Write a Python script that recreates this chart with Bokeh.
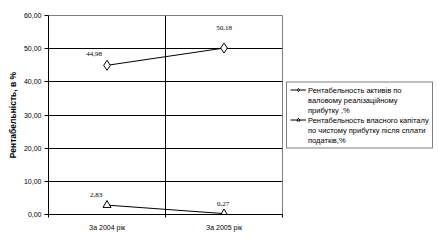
from bokeh.plotting import figure
from bokeh.models import (FixedTicker, Legend, LegendItem, ColumnDataSource, LabelSet)
from bokeh.embed import file_html
from bokeh.resources import INLINE

# ---- data ----
categories = ["За 2004 рік", "За 2005 рік"]
series1_lines = ["Рентабельность активів по", "валовому реалізаційному", "прибутку ,%"]
series1 = [44.98, 50.18]
series2_lines = ["Рентабельность власного капіталу", "по чистому прибутку після сплати", "податків,%"]
series2 = [2.83, 0.27]
y_ticks = [0, 10, 20, 30, 40, 50, 60]
y_tick_labels = ["0,00", "10,00", "20,00", "30,00", "40,00", "50,00", "60,00"]
y_title = "Рентабельність, в %"

FONT = "Liberation Sans"
FS = "7px"

xs = [i + 0.5 for i in range(len(categories))]

p = figure(frame_width=234, frame_height=199, output_backend="svg", toolbar_location=None,
           x_range=(0, len(categories)), y_range=(y_ticks[0], y_ticks[-1]),
           min_border_left=48, min_border_right=0, min_border_top=15,
           min_border_bottom=27)
p.background_fill_color = "white"
p.border_fill_color = "white"
p.outline_line_color = "#808080"
p.outline_line_width = 1

# y axis
p.yaxis.ticker = FixedTicker(ticks=y_ticks)
p.yaxis.major_label_overrides = {t: l for t, l in zip(y_ticks, y_tick_labels)}
p.yaxis.major_tick_in = 0
p.yaxis.major_tick_out = 4
p.yaxis.minor_tick_line_color = None
p.yaxis.axis_line_color = "black"
p.yaxis.major_tick_line_color = "black"
p.yaxis.major_label_text_font = FONT
p.yaxis.major_label_text_font_size = FS
p.yaxis.major_label_text_color = "black"
p.yaxis.major_label_standoff = 3
p.yaxis.axis_label = y_title
p.yaxis.axis_label_text_font = FONT
p.yaxis.axis_label_text_font_size = "8.5px"
p.yaxis.axis_label_text_font_style = "bold"
p.yaxis.axis_label_text_color = "black"
p.yaxis.axis_label_standoff = 3

# x axis: labels at category centres, ticks at boundaries
p.xaxis.ticker = FixedTicker(ticks=xs, minor_ticks=list(range(len(categories) + 1)))
p.xaxis.major_label_overrides = {x: c for x, c in zip(xs, categories)}
p.xaxis.major_tick_in = 0
p.xaxis.major_tick_out = 0
p.xaxis.minor_tick_in = 0
p.xaxis.minor_tick_out = 3
p.xaxis.minor_tick_line_color = "black"
p.xaxis.axis_line_color = "black"
p.xaxis.major_label_text_font = FONT
p.xaxis.major_label_text_font_size = FS
p.xaxis.major_label_text_color = "black"
p.xaxis.major_label_standoff = 6

p.ygrid.ticker = FixedTicker(ticks=y_ticks)
p.ygrid.grid_line_color = "black"
p.xgrid.ticker = FixedTicker(ticks=list(range(1, len(categories))))
p.xgrid.grid_line_color = "black"

l1 = p.line(xs, series1, line_color="black", line_width=1)
s1 = p.scatter(xs, series1, marker="diamond", size=10, fill_color="white",
               line_color="black", line_width=1)
l2 = p.line(xs, series2, line_color="black", line_width=1)
s2 = p.scatter(xs, series2, marker="triangle", size=8, fill_color="white",
               line_color="black", line_width=1)
# invisible renderer used for continuation lines of the legend labels
blank = p.line([], [], line_alpha=0)

def fmt(v):
    return f"{v:.2f}".replace(".", ",")

lab_src = ColumnDataSource(dict(
    x=xs + xs,
    y=series1 + series2,
    text=[fmt(v) for v in series1 + series2],
    dx=[-13, 0, -11, -1],
    dy=[11, 20, 10, 10],
))
p.add_layout(LabelSet(x="x", y="y", text="text", source=lab_src,
                      x_offset="dx", y_offset="dy", text_align="center",
                      text_baseline="middle", text_font=FONT,
                      text_font_size=FS, text_color="black"))

items = []
for lines, rends in ((series1_lines, [l1, s1]), (series2_lines, [l2, s2])):
    items.append(LegendItem(label=lines[0], renderers=rends))
    for ln in lines[1:]:
        items.append(LegendItem(label=ln, renderers=[blank]))

legend = Legend(items=items, location="left")
legend.label_text_font = FONT
legend.label_text_font_size = "7.5px"
legend.label_text_color = "black"
legend.label_height = 8
legend.border_line_color = "black"
legend.border_line_width = 1
legend.background_fill_alpha = 1
legend.glyph_width = 16
legend.glyph_height = 8
legend.label_standoff = 2
legend.padding = 3
legend.spacing = 1
legend.margin = 4
p.add_layout(legend, "right")

open("out.html", "w").write(file_html(p, INLINE))
